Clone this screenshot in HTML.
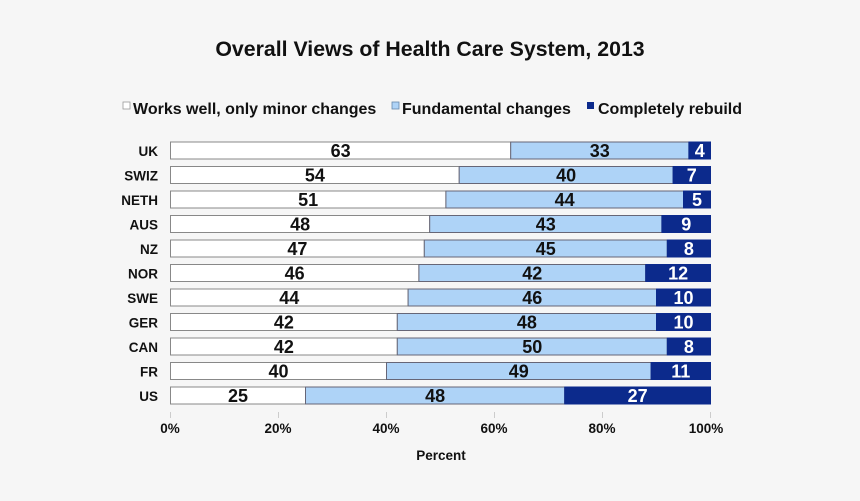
<!DOCTYPE html>
<html><head><style>
html,body{margin:0;padding:0;background:#f6f6f6;}
svg{display:block;font-family:"Liberation Sans",Arial,sans-serif;font-weight:bold;}
.w{fill:#fff;stroke:#888;stroke-width:1}
.l{fill:#aed3f7;stroke:#667;stroke-width:1}
.d{fill:#0c2a8c;stroke:#0c2a8c;stroke-width:1}
.c{font-size:13.5px;fill:#111;text-anchor:end}
.n{font-size:18px;fill:#111;text-anchor:middle}
.m{font-size:18px;fill:#fff;text-anchor:middle}
</style></head><body>
<svg width="860" height="501" viewBox="0 0 860 501">
<rect width="860" height="501" fill="#f6f6f6"/>
<text x="430" y="56" text-anchor="middle" font-size="21.3" fill="#111">Overall Views of Health Care System, 2013</text>
<g font-size="16" fill="#111">
<rect x="123" y="102" width="7" height="7" fill="#fff" stroke="#999" stroke-width="0.8"/>
<text x="133" y="114">Works well, only minor changes</text>
<rect x="392" y="102" width="7" height="7" fill="#aed3f7" stroke="#6688aa" stroke-width="0.8"/>
<text x="402" y="114">Fundamental changes</text>
<rect x="587" y="102" width="7" height="7" fill="#0c2a8c"/>
<text x="598" y="114">Completely rebuild</text>
</g>

<g>
<text class="c" x="158" y="156">UK</text>
<rect class="w" x="170.5" y="142" width="340.2" height="17"/><rect class="l" x="510.7" y="142" width="178.2" height="17"/><rect class="d" x="688.9" y="142" width="21.6" height="17"/>
<text class="n" x="340.6" y="157">63</text><text class="n" x="599.8" y="157">33</text><text class="m" x="699.7" y="157">4</text>

<text class="c" x="158" y="180.5">SWIZ</text>
<rect class="w" x="170.5" y="166.5" width="288.7" height="17"/><rect class="l" x="459.2" y="166.5" width="213.9" height="17"/><rect class="d" x="673.1" y="166.5" width="37.4" height="17"/>
<text class="n" x="314.9" y="181.5">54</text><text class="n" x="566.2" y="181.5">40</text><text class="m" x="691.8" y="181.5">7</text>

<text class="c" x="158" y="205">NETH</text>
<rect class="w" x="170.5" y="191" width="275.4" height="17"/><rect class="l" x="445.9" y="191" width="237.6" height="17"/><rect class="d" x="683.5" y="191" width="27" height="17"/>
<text class="n" x="308.2" y="206">51</text><text class="n" x="564.7" y="206">44</text><text class="m" x="697" y="206">5</text>

<text class="c" x="158" y="229.5">AUS</text>
<rect class="w" x="170.5" y="215.5" width="259.2" height="17"/><rect class="l" x="429.7" y="215.5" width="232.2" height="17"/><rect class="d" x="661.9" y="215.5" width="48.6" height="17"/>
<text class="n" x="300.1" y="230.5">48</text><text class="n" x="545.8" y="230.5">43</text><text class="m" x="686.2" y="230.5">9</text>

<text class="c" x="158" y="254">NZ</text>
<rect class="w" x="170.5" y="240" width="253.8" height="17"/><rect class="l" x="424.3" y="240" width="243" height="17"/><rect class="d" x="667.3" y="240" width="43.2" height="17"/>
<text class="n" x="297.4" y="255">47</text><text class="n" x="545.8" y="255">45</text><text class="m" x="688.9" y="255">8</text>

<text class="c" x="158" y="278.5">NOR</text>
<rect class="w" x="170.5" y="264.5" width="248.4" height="17"/><rect class="l" x="418.9" y="264.5" width="226.8" height="17"/><rect class="d" x="645.7" y="264.5" width="64.8" height="17"/>
<text class="n" x="294.7" y="279.5">46</text><text class="n" x="532.3" y="279.5">42</text><text class="m" x="678.1" y="279.5">12</text>

<text class="c" x="158" y="303">SWE</text>
<rect class="w" x="170.5" y="289" width="237.6" height="17"/><rect class="l" x="408.1" y="289" width="248.4" height="17"/><rect class="d" x="656.5" y="289" width="54" height="17"/>
<text class="n" x="289.3" y="304">44</text><text class="n" x="532.3" y="304">46</text><text class="m" x="683.5" y="304">10</text>

<text class="c" x="158" y="327.5">GER</text>
<rect class="w" x="170.5" y="313.5" width="226.8" height="17"/><rect class="l" x="397.3" y="313.5" width="259.2" height="17"/><rect class="d" x="656.5" y="313.5" width="54" height="17"/>
<text class="n" x="283.9" y="328.5">42</text><text class="n" x="526.9" y="328.5">48</text><text class="m" x="683.5" y="328.5">10</text>

<text class="c" x="158" y="352">CAN</text>
<rect class="w" x="170.5" y="338" width="226.8" height="17"/><rect class="l" x="397.3" y="338" width="270" height="17"/><rect class="d" x="667.3" y="338" width="43.2" height="17"/>
<text class="n" x="283.9" y="353">42</text><text class="n" x="532.3" y="353">50</text><text class="m" x="688.9" y="353">8</text>

<text class="c" x="158" y="376.5">FR</text>
<rect class="w" x="170.5" y="362.5" width="216" height="17"/><rect class="l" x="386.5" y="362.5" width="264.6" height="17"/><rect class="d" x="651.1" y="362.5" width="59.4" height="17"/>
<text class="n" x="278.5" y="377.5">40</text><text class="n" x="518.8" y="377.5">49</text><text class="m" x="680.8" y="377.5">11</text>

<text class="c" x="158" y="401">US</text>
<rect class="w" x="170.5" y="387" width="135" height="17"/><rect class="l" x="305.5" y="387" width="259.2" height="17"/><rect class="d" x="564.7" y="387" width="145.8" height="17"/>
<text class="n" x="238" y="402">25</text><text class="n" x="435.1" y="402">48</text><text class="m" x="637.6" y="402">27</text>
</g>

<g stroke="#ccc" stroke-width="1">
<line x1="170.5" y1="412" x2="170.5" y2="418"/><line x1="278.5" y1="412" x2="278.5" y2="418"/><line x1="386.5" y1="412" x2="386.5" y2="418"/><line x1="494.5" y1="412" x2="494.5" y2="418"/><line x1="602.5" y1="412" x2="602.5" y2="418"/><line x1="710.5" y1="412" x2="710.5" y2="418"/>
</g>
<g font-size="13.5" fill="#111" text-anchor="middle">
<text x="170" y="433">0%</text><text x="278" y="433">20%</text><text x="386" y="433">40%</text><text x="494" y="433">60%</text><text x="602" y="433">80%</text><text x="706" y="433">100%</text>
<text x="441" y="460">Percent</text>
</g>
</svg>
</body></html>
